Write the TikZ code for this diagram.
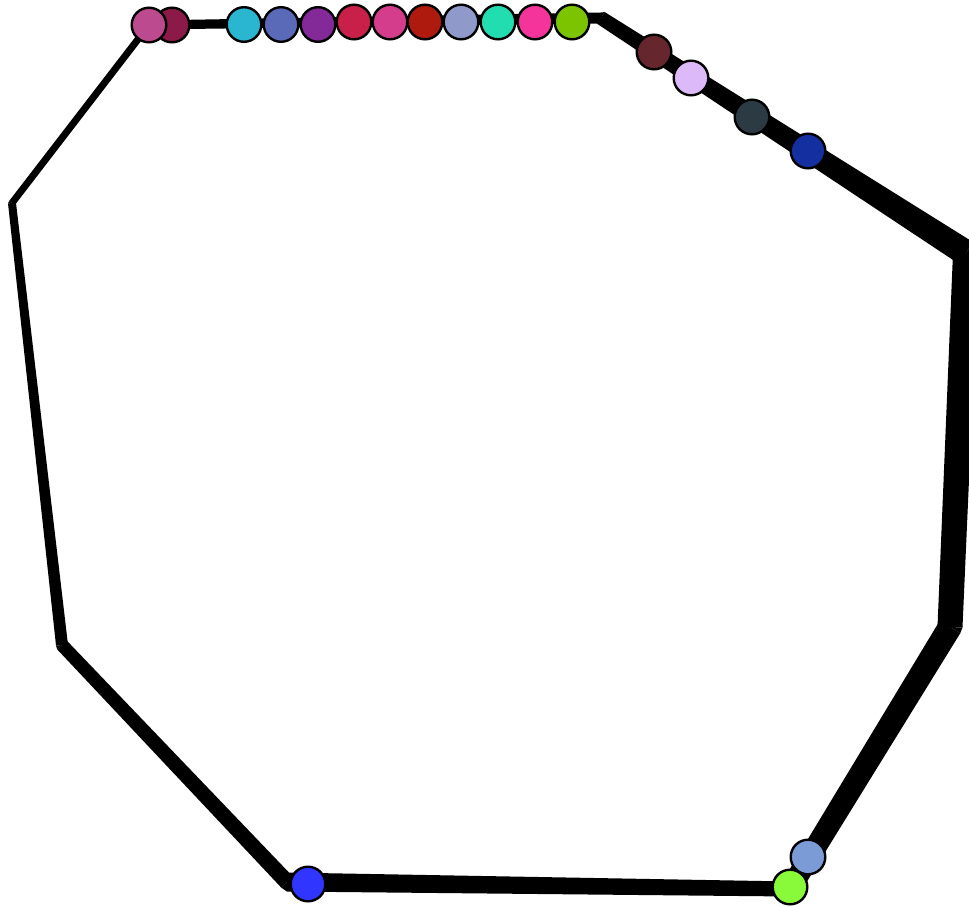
\documentclass[tikz,border=0pt]{standalone}
\usetikzlibrary{calc}
\definecolor{cPink}{HTML}{BB4A8E}
\definecolor{cDarkPink}{HTML}{8B1A48}
\definecolor{cCyan}{HTML}{2AB5D0}
\definecolor{cBluePurple}{HTML}{5A6AB8}
\definecolor{cPurple}{HTML}{832A98}
\definecolor{cCrimson}{HTML}{C82048}
\definecolor{cPinkTwo}{HTML}{D43C8C}
\definecolor{cDarkRed}{HTML}{AE1A0E}
\definecolor{cLavGray}{HTML}{8F9ACA}
\definecolor{cTeal}{HTML}{22DDB0}
\definecolor{cHotPink}{HTML}{F4339B}
\definecolor{cLime}{HTML}{7DC400}
\definecolor{cMaroon}{HTML}{66262D}
\definecolor{cLightLav}{HTML}{DCBAFA}
\definecolor{cSlate}{HTML}{2C3A44}
\definecolor{cNavy}{HTML}{1430A0}
\definecolor{cBlue}{HTML}{3035FF}
\definecolor{cGreen}{HTML}{88FA3A}
\definecolor{cLightBlue}{HTML}{7A9BD6}
% tapered band between two named points: start, end, half width at start, half width at end, name
\newcommand\mybandseg[5]{%
  \coordinate (#5a) at ($(#1)!#3!90:(#2)$);
  \coordinate (#5b) at ($(#1)!#3!-90:(#2)$);
  \coordinate (#5c) at ($(#2)!#4!90:(#1)$);
  \coordinate (#5d) at ($(#2)!#4!-90:(#1)$);
  \fill[black] (#5a) -- (#5d) -- (#5c) -- (#5b) -- cycle;}
% bevel join at a vertex between two bands
\newcommand\myjoin[3]{%
  \fill[black] (#1) -- (#2d) -- (#3a) -- cycle;
  \fill[black] (#1) -- (#2c) -- (#3b) -- cycle;}
\begin{document}
\begin{tikzpicture}[x=1pt,y=-1pt,
  dot/.style={circle,draw=black,line width=2.4pt,minimum size=34.6pt,inner sep=0pt}]
\useasboundingbox (0,0) rectangle (969,907);
\clip (0,0) rectangle (969,907);
\fill[white] (0,0) rectangle (969,907);
% path corners
\coordinate (P) at (149,25);
\coordinate (T0) at (601,18);
\coordinate (C1) at (966,253);
\coordinate (C2) at (950,627);
\coordinate (K) at (790,889);
\coordinate (Cb) at (287,882);
\coordinate (C3) at (62,645);
\coordinate (C4) at (12,203);
% bands
\mybandseg{P}{T0}{4.5pt}{5.5pt}{sA}
\mybandseg{T0}{C1}{7pt}{13pt}{sB}
\mybandseg{C1}{C2}{13pt}{12.5pt}{sC}
\mybandseg{C2}{K}{12pt}{10.5pt}{sD}
\mybandseg{K}{Cb}{7.5pt}{9.5pt}{sE}
\mybandseg{Cb}{C3}{8pt}{6.5pt}{sF}
\mybandseg{C3}{C4}{6pt}{4pt}{sG}
\mybandseg{C4}{P}{3.5pt}{3.5pt}{sH}
\myjoin{T0}{sA}{sB}
\myjoin{C1}{sB}{sC}
\myjoin{C2}{sC}{sD}
\myjoin{K}{sD}{sE}
\myjoin{Cb}{sE}{sF}
\myjoin{C3}{sF}{sG}
\myjoin{C4}{sG}{sH}
\myjoin{P}{sH}{sA}
% nodes on the top row
\node[dot,fill=cDarkPink] (n2) at (172,25) {};
\node[dot,fill=cPink] (n1) at (149,25) {};
\node[dot,fill=cCyan] (n3) at (244,24.5) {};
\node[dot,fill=cBluePurple] (n4) at (281,24.5) {};
\node[dot,fill=cPurple] (n5) at (318,24.5) {};
\node[dot,fill=cCrimson] (n6) at (354,22) {};
\node[dot,fill=cPinkTwo] (n7) at (390,22) {};
\node[dot,fill=cDarkRed] (n8) at (425,22) {};
\node[dot,fill=cLavGray] (n9) at (461,22) {};
\node[dot,fill=cTeal] (n10) at (498,22) {};
\node[dot,fill=cHotPink] (n11) at (535,22) {};
\node[dot,fill=cLime] (n12) at (572,22) {};
% nodes on the upper right diagonal
\node[dot,fill=cMaroon] (n13) at (654,52) {};
\node[dot,fill=cLightLav] (n14) at (691,78) {};
\node[dot,fill=cSlate] (n15) at (752,117) {};
\node[dot,fill=cNavy] (n16) at (808,151) {};
% nodes at the bottom
\node[dot,fill=cLightBlue] (n17) at (808,857) {};
\node[dot,fill=cGreen] (n18) at (790,887) {};
\node[dot,fill=cBlue] (n19) at (308,884) {};
\end{tikzpicture}
\end{document}
